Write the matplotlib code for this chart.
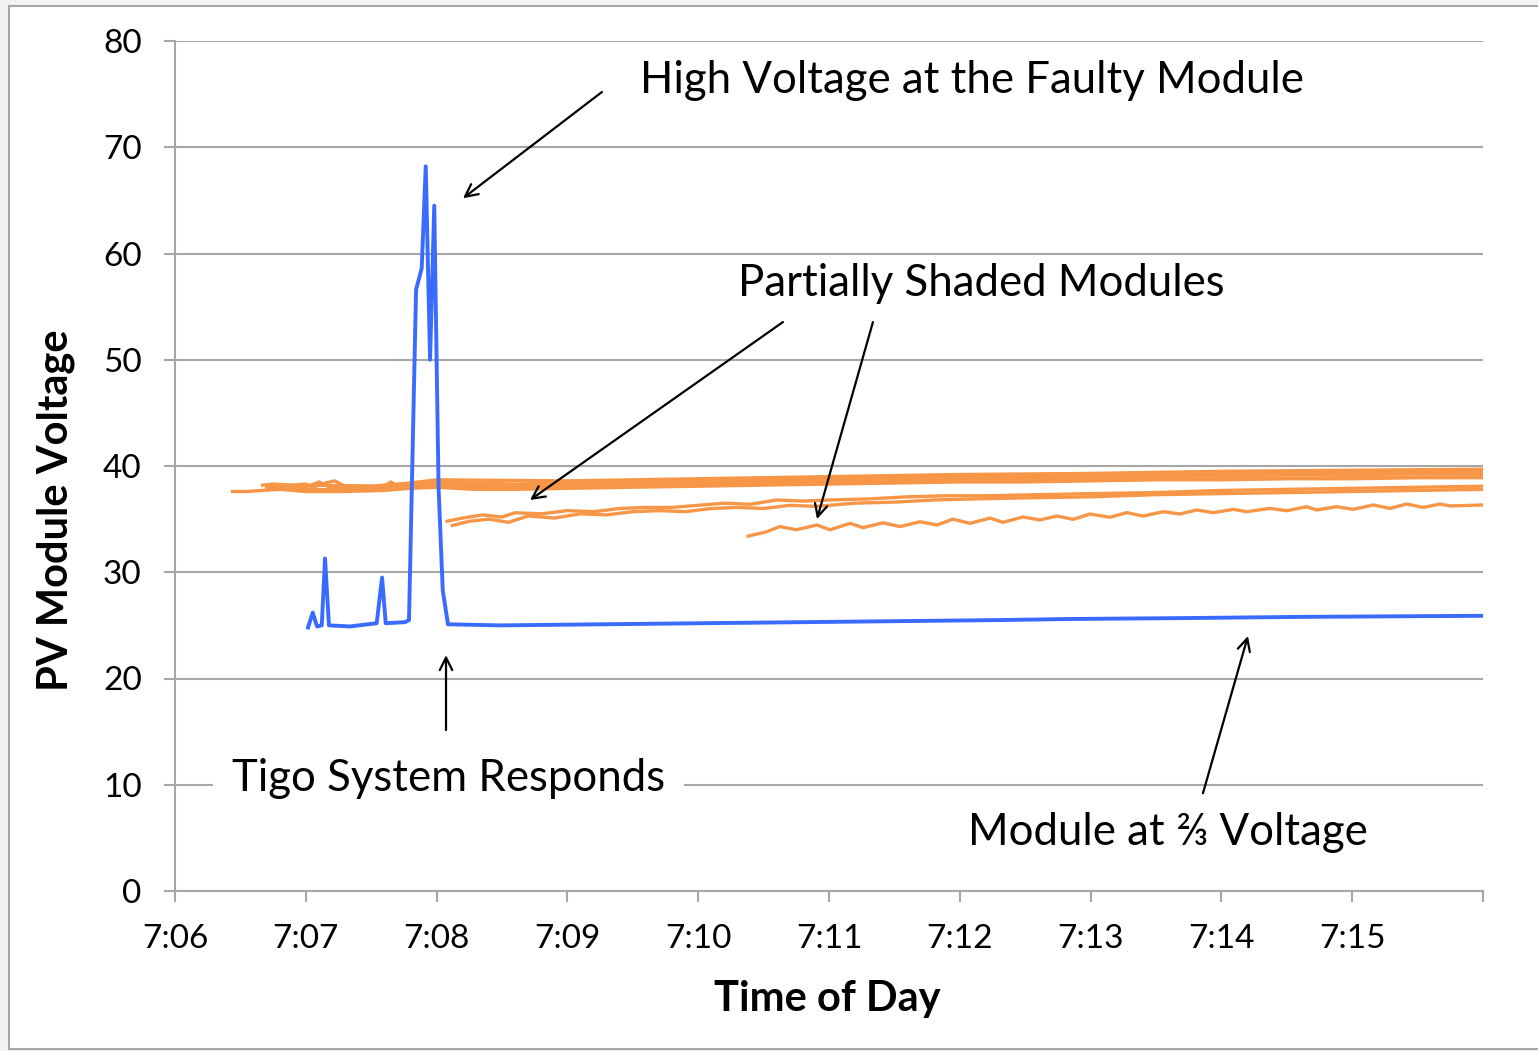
import matplotlib
matplotlib.use("Agg")
import matplotlib.pyplot as plt
from matplotlib.patches import Rectangle

# ---------------- data (minutes after 7:06, volts) ----------------
blue_t = [1.017, 1.053, 1.086, 1.122, 1.147, 1.177, 1.338, 1.542, 1.583, 1.611, 1.758, 1.789,
          1.843, 1.886, 1.917, 1.950, 1.982, 2.015, 2.047, 2.087, 2.485, 3.25, 4.01, 4.78,
          5.54, 6.31, 6.84, 7.84, 8.6, 10.0]
blue_v = [24.8, 26.2, 24.9, 25.0, 31.3, 25.0, 24.9, 25.2, 29.5, 25.2, 25.3, 25.5,
          56.6, 58.6, 68.2, 50.0, 64.5, 38.0, 28.3, 25.1, 25.0, 25.1, 25.2, 25.3,
          25.4, 25.5, 25.6, 25.7, 25.8, 25.9]

t1_t = [0.44, 0.55, 0.67, 0.8, 1.0, 1.3, 1.6, 1.8, 2.0, 2.3, 2.6, 3.0, 3.5, 4.0, 4.5, 5.0,
        5.5, 6.0, 6.5, 7.0, 7.5, 8.0, 8.5, 9.0, 9.5, 10.0]
t1_v = [37.6, 37.6, 37.7, 37.8, 37.6, 37.6, 37.7, 37.9, 38.0, 37.8, 37.8, 37.9, 38.0, 38.1,
        38.2, 38.3, 38.4, 38.5, 38.5, 38.6, 38.7, 38.7, 38.8, 38.8, 38.9, 38.9]

t2_t = [0.67, 0.75, 0.9, 1.0, 1.05, 1.15, 1.22, 1.3, 1.6, 1.65, 1.7, 1.85, 2.0, 2.2, 2.6,
        3.0, 3.5, 4.0, 4.5, 5.0, 5.5, 6.0, 6.5, 7.0, 7.5, 8.0, 8.5, 9.0, 9.5, 10.0]
t2_v = [38.2, 38.3, 38.2, 38.3, 38.0, 38.4, 38.6, 38.1, 38.1, 38.5, 38.1, 38.3, 38.6, 38.4,
        38.3, 38.4, 38.5, 38.6, 38.7, 38.8, 38.9, 39.0, 39.1, 39.1, 39.2, 39.3, 39.3, 39.4,
        39.4, 39.5]

t3_t = [0.7, 1.0, 1.1, 1.2, 1.5, 1.8, 2.0, 2.5, 3.0, 4.0, 5.0, 6.0, 7.0, 8.0, 9.0, 10.0]
t3_v = [38.0, 38.0, 38.5, 37.9, 37.9, 38.2, 38.3, 38.1, 38.2, 38.4, 38.6, 38.8, 38.9, 39.1,
        39.2, 39.3]

t4_t = [0.8, 1.0, 1.5, 2.0, 2.5, 3.0, 4.0, 5.0, 6.0, 7.0, 8.0, 9.0, 10.0]
t4_v = [37.9, 37.8, 37.7, 38.2, 37.9, 38.0, 38.2, 38.4, 38.6, 38.7, 38.8, 38.9, 39.0]

t5_t = [0.75, 1.0, 1.5, 1.8, 2.0, 3.0, 4.0, 5.0, 6.0, 7.0, 8.0, 9.0, 10.0]
t5_v = [38.1, 38.2, 38.1, 38.4, 38.7, 38.6, 38.8, 39.0, 39.2, 39.3, 39.5, 39.6, 39.7]

m1_t = [2.08, 2.2, 2.35, 2.5, 2.6, 2.8, 3.0, 3.2, 3.4, 3.6, 3.8, 4.0, 4.2, 4.4, 4.6, 4.8,
        5.0, 5.3, 5.6, 5.9, 6.2, 6.6, 7.0, 7.5, 8.0, 8.5, 9.0, 9.5, 10.0]
m1_v = [34.8, 35.1, 35.4, 35.2, 35.6, 35.5, 35.8, 35.7, 36.0, 36.1, 36.1, 36.3, 36.5, 36.4,
        36.8, 36.7, 36.8, 36.9, 37.1, 37.2, 37.2, 37.3, 37.4, 37.5, 37.7, 37.8, 37.9, 38.0,
        38.1]

m2_t = [2.12, 2.25, 2.4, 2.55, 2.7, 2.9, 3.1, 3.3, 3.5, 3.7, 3.9, 4.1, 4.3, 4.5, 4.7, 4.9,
        5.2, 5.5, 5.8, 6.1, 6.5, 7.0, 7.5, 8.0, 8.5, 9.0, 9.5, 10.0]
m2_v = [34.4, 34.8, 35.0, 34.7, 35.3, 35.1, 35.5, 35.4, 35.7, 35.8, 35.7, 36.0, 36.1, 36.0,
        36.3, 36.2, 36.5, 36.6, 36.8, 36.9, 37.0, 37.1, 37.3, 37.4, 37.5, 37.6, 37.7, 37.8]

s_t = [4.381, 4.45, 4.52, 4.625, 4.75, 4.908, 5.008, 5.161, 5.26, 5.413, 5.543, 5.696,
       5.826, 5.948, 6.078, 6.231, 6.330, 6.483, 6.613, 6.741, 6.868, 6.995, 7.148, 7.276,
       7.403, 7.556, 7.683, 7.811, 7.938, 8.091, 8.193, 8.372, 8.499, 8.652, 8.728, 8.881,
       9.008, 9.161, 9.289, 9.416, 9.544, 9.671, 9.748, 9.990]
s_v = [33.4, 33.6, 33.8, 34.3, 34.0, 34.45, 34.0, 34.6, 34.2, 34.65, 34.3, 34.75,
       34.45, 35.0, 34.6, 35.1, 34.7, 35.2, 34.92, 35.29, 34.98, 35.48, 35.17, 35.61,
       35.29, 35.70, 35.48, 35.86, 35.61, 35.92, 35.70, 36.01, 35.79, 36.17, 35.86, 36.17,
       35.92, 36.33, 36.01, 36.42, 36.10, 36.42, 36.24, 36.33]

xtick_vals = [0, 1, 2, 3, 4, 5, 6, 7, 8, 9, 10]
xtick_labels = ["7:06", "7:07", "7:08", "7:09", "7:10", "7:11", "7:12", "7:13", "7:14", "7:15", ""]
ytick_vals = [0, 10, 20, 30, 40, 50, 60, 70, 80]

# ---------------- figure ----------------
FONT = ["Lato", "DejaVu Sans"]
plt.rcParams["font.family"] = FONT

fig = plt.figure(figsize=(15.38, 10.51), dpi=100, facecolor="#f3f3f3")
frame = Rectangle((9 / 1538, 2 / 1051), 1.0, 1043 / 1051, transform=fig.transFigure,
                  facecolor="white", edgecolor="#a6a6a6", linewidth=1.5, zorder=-10)
fig.patches.append(frame)
ax = fig.add_axes([175 / 1538, 160 / 1051, 1308 / 1538, 850 / 1051])
ax.set_facecolor("none")
ax.set_zorder(1)

orange = "#F79646"
blue = "#3A6BFF"
for tt, vv in [(t1_t, t1_v), (t4_t, t4_v), (t3_t, t3_v), (t2_t, t2_v), (t5_t, t5_v),
               (m2_t, m2_v), (m1_t, m1_v), (s_t, s_v)]:
    ax.plot(tt, vv, color=orange, lw=2.4, solid_joinstyle="round", zorder=3)
ax.plot(blue_t, blue_v, color=blue, lw=2.8, solid_joinstyle="round", zorder=4)

ax.set_xlim(0, 10)
ax.set_ylim(0, 80)
ax.set_xticks(xtick_vals)
ax.set_xticklabels(xtick_labels)
ax.set_yticks(ytick_vals)
ax.yaxis.grid(True, color="#a6a6a6", lw=1.5)
ax.set_axisbelow(True)
for s in ["top", "right"]:
    ax.spines[s].set_visible(False)
for s in ["left", "bottom"]:
    ax.spines[s].set_color("#a6a6a6")
    ax.spines[s].set_linewidth(1.5)
ax.tick_params(axis="both", colors="#a6a6a6", width=1.5, length=8, labelcolor="black",
               labelsize=24)
ax.tick_params(axis="x", pad=16)
ax.tick_params(axis="y", pad=16)

ax.set_xlabel("Time of Day", fontsize=30, fontweight="bold")
ax.set_ylabel("PV Module Voltage", fontsize=30, fontweight="bold")
ax.xaxis.set_label_coords(0.499, -0.105)
ax.yaxis.set_label_coords(-0.0765, 0.448)

# ---------------- annotations ----------------
tsize = 31.5
ax.text(3.555, 76.3, "High Voltage at the Faulty Module", fontsize=tsize, ha="left", va="center", zorder=5)
ax.text(4.304, 57.2, "Partially Shaded Modules", fontsize=tsize, ha="left", va="center", zorder=5)
ax.text(0.436, 10.6, "Tigo System Responds", fontsize=tsize, ha="left", va="center", zorder=5,
        bbox=dict(facecolor="white", edgecolor="none", pad=14))
ax.text(6.063, 5.46, "Module at \u2154 Voltage", fontsize=tsize, ha="left", va="center", zorder=5,
        bbox=dict(facecolor="white", edgecolor="none", pad=6))

arrows = [((3.264, 75.2), (2.202, 65.2)),
          ((4.648, 53.55), (2.714, 36.8)),
          ((5.336, 53.55), (4.908, 35.0)),
          ((2.072, 15.15), (2.072, 22.2)),
          ((7.859, 9.2), (8.203, 24.0))]
for tail, head in arrows:
    ax.annotate("", xy=head, xytext=tail, zorder=6,
                arrowprops=dict(arrowstyle="->,head_length=0.9,head_width=0.45", color="black",
                                lw=1.6, shrinkA=0, shrinkB=0))

fig.savefig("out.png", dpi=100, facecolor=fig.get_facecolor())
